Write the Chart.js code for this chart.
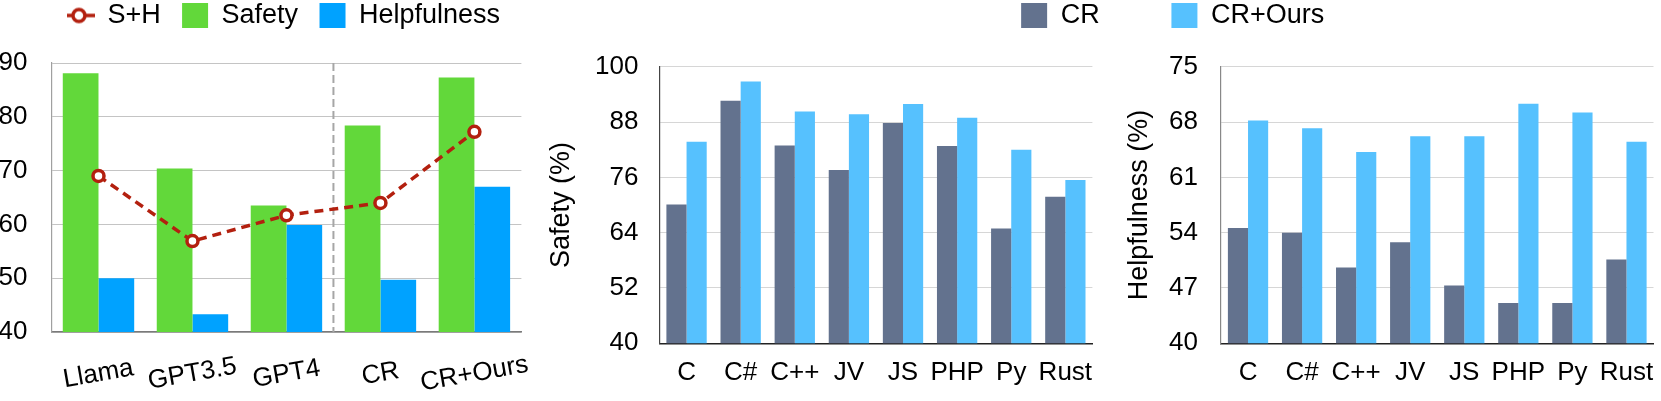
<!DOCTYPE html>
<html>
<head>
<meta charset="utf-8">
<script src="https://cdn.jsdelivr.net/npm/chart.js@4.4.1/dist/chart.umd.min.js"></script>
<style>
  html, body { margin: 0; padding: 0; background: #fff; width: 1661px; height: 401px; overflow: hidden; }
  canvas { position: absolute; top: 0; display: block; }
</style>
</head>
<body>
<canvas id="c1" width="568" height="401" style="left:0px"></canvas>
<canvas id="c2" width="856" height="401" style="left:540px"></canvas>
<canvas id="c3" width="561" height="401" style="left:1100px"></canvas>
<script>
// ---------------- data ----------------
const modelLabels = ['Llama', 'GPT3.5', 'GPT4', 'CR', 'CR+Ours'];
const modelSH = [69.0, 56.9, 61.7, 64.0, 77.2];
const modelSafety = [88.1, 70.4, 63.5, 78.4, 87.3];
const modelHelpfulness = [50.0, 43.3, 59.9, 49.7, 67.0];
const modelTicks = [40, 50, 60, 70, 80, 90];
const separatorAfter = 'GPT4';

const langLabels = ['C', 'C#', 'C++', 'JV', 'JS', 'PHP', 'Py', 'Rust'];
const safetyCR = [70.1, 92.6, 82.9, 77.6, 87.8, 82.8, 64.9, 71.8];
const safetyOurs = [83.7, 96.8, 90.3, 89.7, 91.9, 88.9, 82.0, 75.4];
const safetyTicks = [40, 52, 64, 76, 88, 100];
const helpCR = [54.6, 54.0, 49.6, 52.8, 47.3, 45.1, 45.1, 50.6];
const helpOurs = [68.2, 67.2, 64.2, 66.2, 66.2, 70.3, 69.2, 65.5];
const helpTicks = [40, 47, 54, 61, 68, 75];

// ---------------- style ----------------
const RED = '#B3200F';
const GREEN = '#62D83A';
const BLUE = '#00A2FF';
const SLATE = '#63728E';
const LIGHT = '#56C1FE';
const FONT = '"Liberation Sans", Arial, Helvetica, sans-serif';
const TICK_SIZE = 26;
const LEGEND_SIZE = 27;

Chart.defaults.font.family = FONT;
Chart.defaults.font.size = TICK_SIZE;
Chart.defaults.color = '#000';
Chart.defaults.animation = false;
Chart.defaults.plugins.tooltip.enabled = false;
Chart.defaults.layout.autoPadding = false;

function ticksFrom(arr) {
  return (s) => { s.ticks = arr.map(v => ({ value: v })); };
}
function fixY(width) {
  return (s) => { s.width = width; };
}
function fixX(height, padRight) {
  return (s) => { s.height = height; s.paddingLeft = 0; s.paddingRight = padRight; };
}
function spacer(h) {
  return { display: true, text: '', weight: 500, padding: { top: 0, bottom: h - 1 }, font: { size: 1, lineHeight: 1 } };
}

// legend icon for the S+H line series
const shIcon = document.createElement('canvas');
shIcon.width = 28; shIcon.height = 20;
(function () {
  const g = shIcon.getContext('2d');
  g.strokeStyle = RED; g.lineWidth = 3.5;
  g.beginPath(); g.moveTo(0, 10); g.lineTo(28, 10); g.stroke();
  g.beginPath(); g.arc(12, 10, 6, 0, Math.PI * 2);
  g.fillStyle = '#fff'; g.fill(); g.stroke();
})();

function legendItems(useIcon) {
  return (chart) => {
    const items = Chart.defaults.plugins.legend.labels.generateLabels(chart);
    items.forEach((it, i) => {
      it.pointStyle = (useIcon && i === 0) ? shIcon : 'rect';
      it.lineWidth = 0;
    });
    return items;
  };
}

// dashed separator between two category groups (position from the x scale)
const separator = {
  id: 'separator',
  beforeDatasetsDraw(chart) {
    const sx = chart.scales.x, a = chart.chartArea, ctx = chart.ctx;
    const i = chart.data.labels.indexOf(separatorAfter);
    const x = (sx.getPixelForValue(i) + sx.getPixelForValue(i + 1)) / 2;
    ctx.save();
    ctx.strokeStyle = '#a6a6a6'; ctx.lineWidth = 2; ctx.setLineDash([8, 4]);
    ctx.beginPath(); ctx.moveTo(x, a.top); ctx.lineTo(x, a.bottom); ctx.stroke();
    ctx.restore();
  }
};

// slanted, centred category labels
const slantLabels = {
  id: 'slantLabels',
  afterDraw(chart) {
    const sx = chart.scales.x, ctx = chart.ctx;
    ctx.save();
    ctx.font = TICK_SIZE + 'px ' + FONT;
    ctx.fillStyle = '#000';
    ctx.textAlign = 'center'; ctx.textBaseline = 'middle';
    chart.data.labels.forEach((lab, i) => {
      ctx.save();
      ctx.translate(sx.getPixelForValue(i), chart.chartArea.bottom + 42);
      ctx.rotate(-10 * Math.PI / 180);
      ctx.fillText(lab, 0, 0);
      ctx.restore();
    });
    ctx.restore();
  }
};

const flatTicks = { padding: 14, color: '#000', font: { size: TICK_SIZE }, maxRotation: 0, minRotation: 0, autoSkip: false };
const legendLabels = (pad, icon) => ({ usePointStyle: true, pointStyleWidth: 26, boxHeight: 25, padding: pad,
  color: '#000', font: { size: LEGEND_SIZE }, generateLabels: legendItems(icon) });

// ---------------- panel 1 ----------------
new Chart(document.getElementById('c1'), {
  type: 'bar',
  data: {
    labels: modelLabels,
    datasets: [
      { type: 'line', label: 'S+H', data: modelSH, borderColor: RED, borderWidth: 3.5, borderDash: [9, 6],
        pointRadius: 5.5, pointBorderWidth: 3.5, pointBackgroundColor: '#fff', pointBorderColor: RED,
        fill: false, tension: 0, order: 0 },
      { label: 'Safety', data: modelSafety, backgroundColor: GREEN, pointStyle: 'rect', order: 1 },
      { label: 'Helpfulness', data: modelHelpfulness, backgroundColor: BLUE, pointStyle: 'rect', order: 1 }
    ]
  },
  options: {
    responsive: false, devicePixelRatio: 1,
    datasets: { bar: { categoryPercentage: 0.76, barPercentage: 1 } },
    layout: { padding: { top: -19.4, left: 0, right: 0, bottom: 0 } },
    plugins: {
      legend: { position: 'top', align: 'center', labels: legendLabels(21.4, true) },
      title: spacer(24)
    },
    scales: {
      x: { grid: { display: false, drawTicks: false }, border: { color: '#7a7a7a', width: 1.5 },
        ticks: { display: false }, afterFit: fixX(69, 46.6) },
      y: { min: 40, max: 90, afterBuildTicks: ticksFrom(modelTicks),
        grid: { color: '#c4c4c4', drawTicks: false }, border: { color: '#a0a0a0', width: 1.2 },
        ticks: { padding: 24, color: '#000', font: { size: TICK_SIZE } }, afterFit: fixY(51.5) }
    }
  },
  plugins: [separator, slantLabels]
});

// ---------------- panel 2 ----------------
new Chart(document.getElementById('c2'), {
  type: 'bar',
  data: {
    labels: langLabels,
    datasets: [
      { label: 'CR', data: safetyCR, backgroundColor: SLATE, pointStyle: 'rect' },
      { label: 'CR+Ours', data: safetyOurs, backgroundColor: LIGHT, pointStyle: 'rect' }
    ]
  },
  options: {
    responsive: false, devicePixelRatio: 1,
    datasets: { bar: { categoryPercentage: 0.745, barPercentage: 1 } },
    layout: { padding: { top: -69.8, left: 0, right: 0, bottom: 0 } },
    plugins: {
      legend: { position: 'top', align: 'end', labels: legendLabels(71.8, false) },
      title: spacer(27.7)
    },
    scales: {
      x: { grid: { display: false, drawTicks: false }, border: { color: '#222', width: 1.5 },
        ticks: flatTicks, afterFit: fixX(57.7, 303.6) },
      y: { min: 40, max: 100, afterBuildTicks: ticksFrom(safetyTicks),
        grid: { color: '#d6d6d6', drawTicks: false }, border: { color: '#444', width: 1.2 },
        ticks: { padding: 21, color: '#000', font: { size: TICK_SIZE } },
        title: { display: true, text: 'Safety (%)', color: '#000', font: { size: LEGEND_SIZE }, padding: { top: 5.6, bottom: 0 } },
        afterFit: fixY(119.5) }
    }
  }
});

// ---------------- panel 3 ----------------
new Chart(document.getElementById('c3'), {
  type: 'bar',
  data: {
    labels: langLabels,
    datasets: [
      { label: 'CR', data: helpCR, backgroundColor: SLATE },
      { label: 'CR+Ours', data: helpOurs, backgroundColor: LIGHT }
    ]
  },
  options: {
    responsive: false, devicePixelRatio: 1,
    datasets: { bar: { categoryPercentage: 0.745, barPercentage: 1 } },
    layout: { padding: { top: 66.7, left: 0, right: 0, bottom: 0 } },
    plugins: { legend: { display: false } },
    scales: {
      x: { grid: { display: false, drawTicks: false }, border: { color: '#222', width: 1.5 },
        ticks: flatTicks, afterFit: fixX(57.7, 7.5) },
      y: { min: 40, max: 75, afterBuildTicks: ticksFrom(helpTicks),
        grid: { color: '#d6d6d6', drawTicks: false }, border: { color: '#888', width: 1.2 },
        ticks: { padding: 23, color: '#000', font: { size: TICK_SIZE } },
        title: { display: true, text: 'Helpfulness (%)', color: '#000', font: { size: LEGEND_SIZE }, padding: { top: 23.4, bottom: 0 } },
        afterFit: fixY(121) }
    }
  }
});
</script>
</body>
</html>
